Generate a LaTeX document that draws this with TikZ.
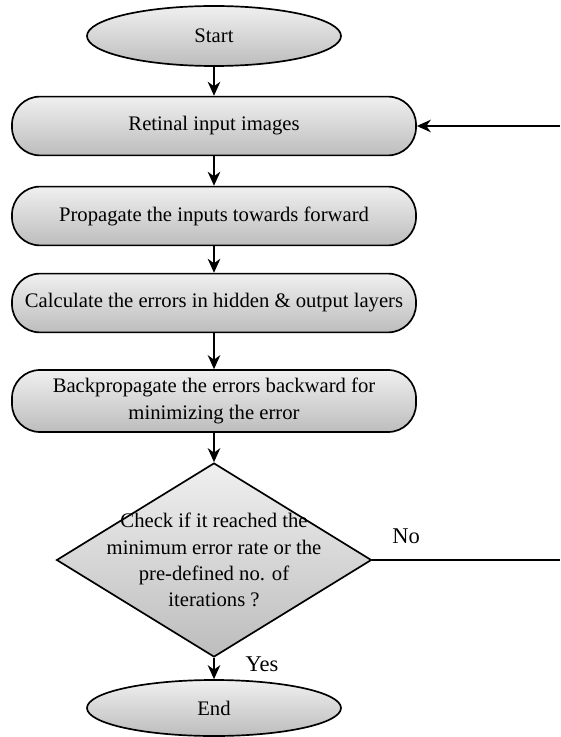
\documentclass[tikz,border=0pt]{standalone}
\usepackage{fontspec}
\setmainfont{Liberation Serif}
\usetikzlibrary{arrows.meta,shapes.geometric}

\tikzset{
  flow/.style={draw=black,line width=1.2pt,top color=white!94!black,bottom color=white!74!black,
    font=\fontsize{14.7}{18.6}\selectfont,align=center},
  terminal/.style={flow,ellipse,minimum width=6.35cm,minimum height=1.5cm,inner sep=0pt},
  process/.style={flow,rectangle,rounded corners=0.7cm,minimum width=10.1cm,minimum height=1.47cm,inner sep=0pt},
  decision/.style={flow,diamond,minimum width=7.875cm,minimum height=4.85cm,inner sep=0pt},
  link/.style={line width=0.9pt,-{Stealth[length=10pt,width=9pt]}}
}

\begin{document}
\begin{tikzpicture}
  \useasboundingbox (0,0) rectangle (14,-18.425);

  \node[terminal] (start) at (5.35,-0.9) {Start};
  \node[process] (retina) at (5.35,-3.15) {Retinal input images};
  \node[process] (forward) at (5.35,-5.4) {Propagate the inputs towards forward};
  \node[process] (errors) at (5.35,-7.575) {Calculate the errors in hidden \& output layers};
  \node[process,minimum height=1.55cm] (backprop) at (5.35,-10.025)
    {Backpropagate the errors backward for\\minimizing the error};
  \node[decision] (check) at (5.35,-14.0) {};
  \node[font=\fontsize{14.7}{18.6}\selectfont,align=center,inner sep=0pt] (checktext) at (5.35,-14.0)
    {Check if it reached the\\minimum error rate or the\\pre-defined no. of\\iterations ?};
  \node[terminal,minimum height=1.4cm] (end) at (5.35,-17.7) {End};

  % loop back from the right edge
  \coordinate (loopout) at (14,-14.0);
  \coordinate (loopin) at (14,-3.15);

  \draw[link] (start) -- (retina);
  \draw[link] (retina) -- (forward);
  \draw[link] (forward) -- (errors);
  \draw[link] (errors) -- (backprop);
  \draw[link] (backprop) -- (check);
  \draw[link] (check) -- (end);
  \draw[line width=0.9pt] (check.east) -- (loopout);
  \draw[link] (loopin) -- (retina.east);

  \node[font=\fontsize{16}{19}\selectfont] (no) at (10.15,-13.4) {No};
  \node[font=\fontsize{16}{19}\selectfont] (yes) at (6.55,-16.6) {Yes};
\end{tikzpicture}
\end{document}
